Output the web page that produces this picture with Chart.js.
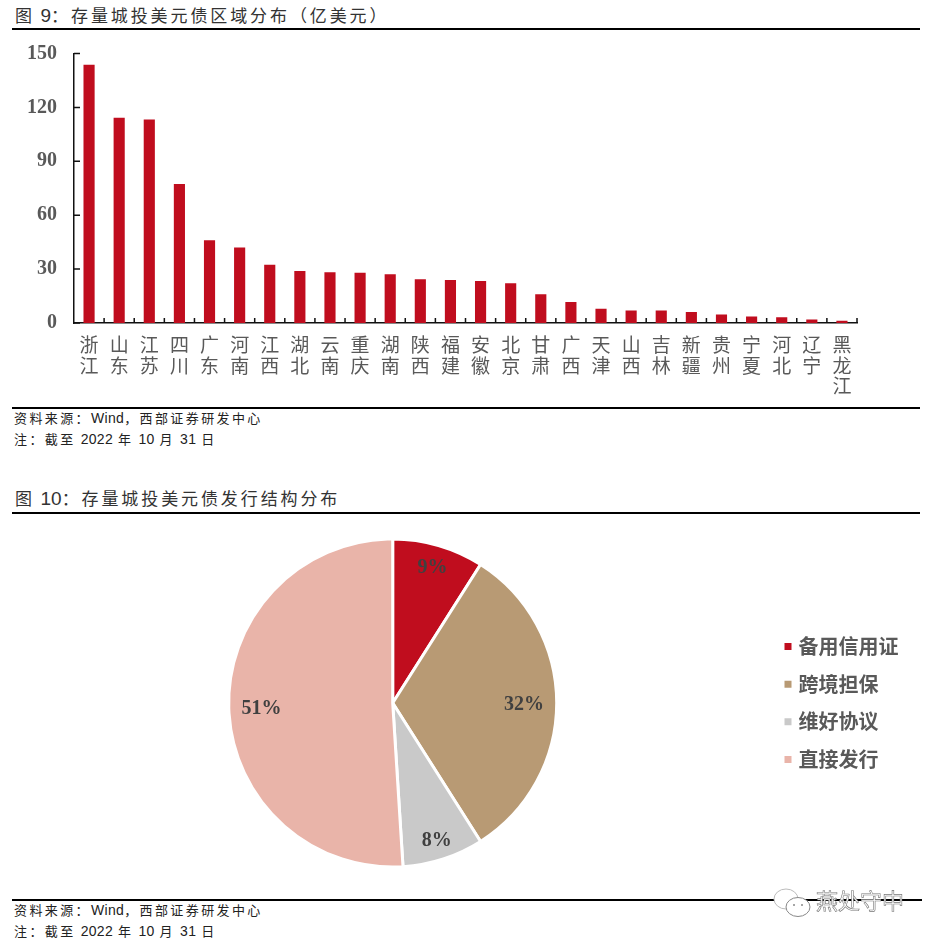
<!DOCTYPE html>
<html lang="zh"><head><meta charset="utf-8">
<script src="https://cdn.jsdelivr.net/npm/chart.js@4"></script>
<style>
html,body{margin:0;padding:0;background:#fff;}
body{width:937px;height:944px;position:relative;overflow:hidden;font-family:"Liberation Sans","Noto Sans CJK SC",sans-serif;}
canvas{position:absolute;left:0;}
.rule{position:absolute;left:12px;width:908px;height:2px;background:#000;}
.title{position:absolute;left:15px;font-size:17px;letter-spacing:2.9px;word-spacing:-2px;color:#333;line-height:22px;white-space:nowrap;}
.title b{font-weight:normal;font-size:19px;letter-spacing:0;}
.note{position:absolute;left:14px;font-size:13px;letter-spacing:2.4px;word-spacing:-1px;color:#222;line-height:16px;white-space:nowrap;}
.note b{font-weight:normal;font-size:14px;letter-spacing:.3px;}
.mark{position:absolute;left:816px;top:889px;font-size:22px;line-height:26px;color:#fff;letter-spacing:0;white-space:nowrap;-webkit-text-stroke:.6px #777;}
svg{position:absolute;left:772px;top:886px;}
</style></head><body>
<div class="title" style="top:5px">图 <b>9</b>：存量城投美元债区域分布（亿美元）</div>
<div class="rule" style="top:28px"></div>
<canvas id="bar" width="937" height="378" style="top:29px;width:937px;height:378px"></canvas>
<div class="rule" style="top:407px"></div>
<div class="note" style="top:410px">资料来源：<b>Wind</b>，西部证券研发中心</div>
<div class="note" style="top:431px">注：截至 <b>2022</b> 年 <b>10</b> 月 <b>31</b> 日</div>
<div class="title" style="top:488px">图 <b>10</b>：存量城投美元债发行结构分布</div>
<div class="rule" style="top:512px"></div>
<canvas id="pie" width="937" height="380" style="top:515px;width:937px;height:380px"></canvas>
<div class="rule" style="top:899px;width:910px"></div>
<svg width="40" height="36" viewBox="0 0 40 36"><ellipse cx="14" cy="13" rx="12" ry="10" fill="#fff" stroke="#bbb"/><ellipse cx="26" cy="21" rx="12" ry="9.5" fill="#fff" stroke="#888"/><circle cx="22" cy="19" r="1" fill="#888"/><circle cx="30" cy="19" r="1" fill="#888"/></svg>
<div class="mark">燕处守中</div>
<div class="note" style="top:902px">资料来源：<b>Wind</b>，西部证券研发中心</div>
<div class="note" style="top:923px">注：截至 <b>2022</b> 年 <b>10</b> 月 <b>31</b> 日</div>
<script>
const categories = ['浙江','山东','江苏','四川','广东','河南','江西','湖北','云南','重庆','湖南','陕西','福建','安徽','北京','甘肃','广西','天津','山西','吉林','新疆','贵州','宁夏','河北','辽宁','黑龙江'];
const amounts = [143.7,114.2,113.3,77.3,46,42,32.4,29,28.2,28,27.1,24.3,24,23.4,22.1,16,11.7,8,7,6.9,6.1,4.7,3.6,3.2,1.9,1.3];
const yTicks = [0,30,60,90,120,150];
const structures = ['备用信用证','跨境担保','维好协议','直接发行'];
const shares = [9,32,8,51];
const shareColors = ['#C00D1E','#B89A74','#C9C9C9','#E9B4A9'];
const barColor = '#C00D1E';
const textGrey = '#595959';
const cjk = '"Noto Sans CJK SC"';

const inwardTicks = {
  id:'inwardTicks',
  afterDatasetsDraw(chart){
    const {ctx,scales:{x,y}} = chart;
    ctx.save();
    ctx.strokeStyle='#111';ctx.lineWidth=1.5;
    ctx.beginPath();
    y.ticks.forEach((t,i)=>{const p=y.getPixelForTick(i);ctx.moveTo(x.left,p);ctx.lineTo(x.left+6,p);});
    const half=(x.getPixelForValue(1)-x.getPixelForValue(0))/2;
    x.ticks.forEach((t,i)=>{
      const p=x.getPixelForTick(i)+half;
      ctx.moveTo(p,y.bottom);ctx.lineTo(p,y.bottom-5);
    });
    ctx.stroke();
    ctx.restore();
  }
};

new Chart(document.getElementById('bar'),{
  type:'bar',
  data:{labels:categories,datasets:[{data:amounts,backgroundColor:barColor,barPercentage:0.37,categoryPercentage:1}]},
  plugins:[inwardTicks],
  options:{
    responsive:false,animation:false,
    layout:{padding:{top:24.5,right:80,left:0,bottom:0}},
    plugins:{legend:{display:false},tooltip:{enabled:false}},
    scales:{
      x:{
        afterFit(s){s.height=84;s.paddingLeft=0;s.paddingRight=0;},
        grid:{display:false,drawTicks:false},
        border:{display:true,color:'#111',width:1.5},
        ticks:{
          autoSkip:false,maxRotation:0,minRotation:0,padding:11,color:textGrey,
          font:{family:cjk,size:19,lineHeight:1.1},
          callback(v){return Array.from(categories[v]);}
        }
      },
      y:{
        min:0,max:150,
        afterFit(s){s.width=74;s.paddingTop=0;s.paddingBottom=0;},
        afterBuildTicks(s){s.ticks=yTicks.map(value=>({value}));},
        grid:{display:false,drawTicks:false},
        border:{display:true,color:'#111',width:1.5},
        ticks:{padding:17,color:textGrey,font:{family:'"Liberation Serif"',size:20,weight:'bold'}}
      }
    }
  }
});

const sliceLabels = {
  id:'sliceLabels',
  afterDatasetsDraw(chart){
    const {ctx}=chart;
    const arcs=chart.getDatasetMeta(0).data;
    ctx.save();
    ctx.font='bold 20px "Liberation Serif"';
    ctx.fillStyle='#404040';ctx.textAlign='center';ctx.textBaseline='middle';
    arcs.forEach((a,i)=>{
      const mid=(a.startAngle+a.endAngle)/2;
      const r=a.outerRadius*(shares[i]<10?0.87:0.8);
      ctx.fillText(shares[i]+'%',a.x+Math.cos(mid)*r,a.y+2+Math.sin(mid)*r);
    });
    ctx.restore();
  }
};

new Chart(document.getElementById('pie'),{
  type:'pie',
  data:{labels:structures,datasets:[{data:shares,backgroundColor:shareColors,borderColor:'#fff',borderWidth:3}]},
  plugins:[sliceLabels],
  options:{
    responsive:false,animation:false,
    layout:{padding:{top:22.5,bottom:26.5,left:15.5,right:28.5}},
    plugins:{
      tooltip:{enabled:false},
      legend:{
        position:'right',
        labels:{usePointStyle:true,pointStyle:'rect',boxWidth:1,boxHeight:10,padding:17.6,color:textGrey,
          font:{family:cjk,size:20,weight:'700'}}
      }
    }
  }
});
</script>
</body></html>
